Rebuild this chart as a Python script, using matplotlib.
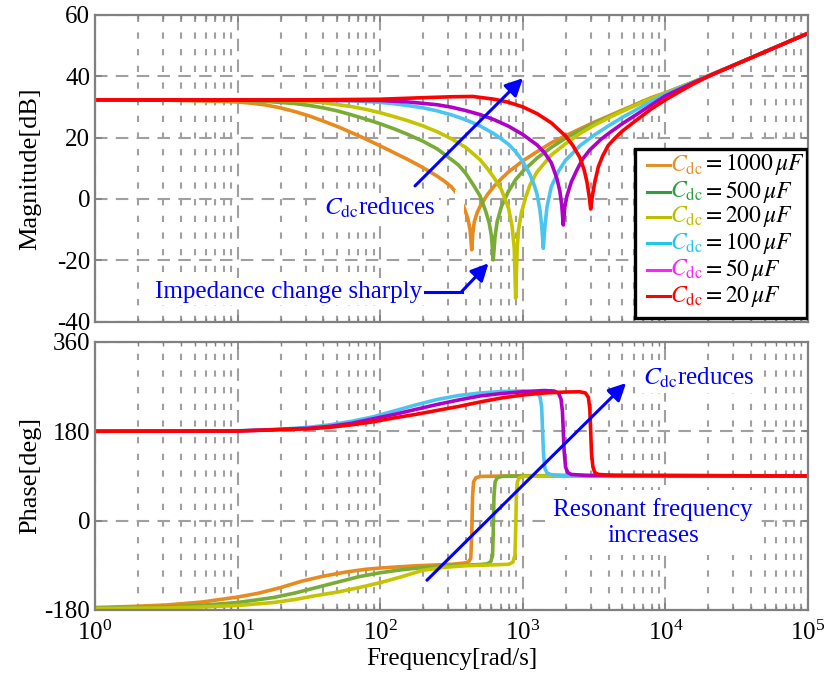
import numpy as np
import matplotlib.pyplot as plt
from matplotlib.patches import Rectangle
from matplotlib.ticker import LogLocator, NullFormatter

plt.rcParams['font.family'] = 'Liberation Serif'
plt.rcParams['mathtext.fontset'] = 'stix'
plt.rcParams['axes.unicode_minus'] = False

# ---- data; frequencies given as log10(w), w in rad/s ----
cap_labels = ['1000', '500', '200', '100', '50', '20']
line_colors = ['#E88A1E', '#78AC34', '#C4C400', '#4CC4F0', '#B000C8', '#FF0000']
legend_colors = ['#E0922E', '#2E9E40', '#BDBD00', '#20C8E8', '#FF20FF', '#FF0000']

# magnitude [dB]
lw_mag_1000 = [0, 0.5, 0.8, 1.0, 1.1, 1.2, 1.3, 1.4, 1.5, 1.6, 1.7, 1.8, 1.9, 2.0, 2.1, 2.2,
               2.3, 2.4, 2.45, 2.5, 2.55, 2.59, 2.615, 2.63, 2.642, 2.65, 2.66, 2.68, 2.7,
               2.75, 2.8, 2.85, 2.9, 3.0, 3.1, 3.2, 3.3, 3.4, 3.5, 3.6, 3.7, 3.8, 3.9, 4.0,
               4.2, 4.5, 5.0]
mag_1000 = [32.3, 32.2, 31.9, 31.6, 31.2, 30.6, 29.7, 28.5, 27.1, 25.4, 23.6, 21.6, 19.5,
            17.3, 15.0, 12.7, 10.2, 7.4, 5.8, 3.9, 1.0, -3.0, -6.5, -10.0, -16.6, -11.0,
            -7.5, -4.5, -2.5, 1.3, 4.2, 6.6, 8.8, 12.4, 15.4, 18.3, 20.6, 22.8, 25.0, 27.0,
            29.0, 31.0, 33.0, 34.6, 38.2, 44.0, 54.0]

lw_mag_500 = [0, 1.0, 1.2, 1.4, 1.5, 1.6, 1.7, 1.8, 1.9, 2.0, 2.1, 2.2, 2.3, 2.4, 2.5, 2.55,
              2.6, 2.65, 2.7, 2.74, 2.765, 2.78, 2.793, 2.805, 2.82, 2.85, 2.9, 2.95, 3.0,
              3.1, 3.2, 3.3, 3.4, 3.5, 3.6, 3.7, 3.8, 3.9, 4.0, 4.2, 4.5, 5.0]
mag_500 = [32.3, 32.1, 31.8, 31.1, 30.5, 29.7, 28.7, 27.4, 26.0, 24.5, 22.8, 20.9, 18.8,
           16.3, 12.8, 11.0, 8.3, 4.8, 1.0, -4.0, -8.0, -12.0, -19.9, -12.5, -7.5, -2.5,
           2.5, 6.3, 9.0, 13.3, 16.8, 19.8, 22.3, 24.6, 26.7, 28.8, 30.8, 32.8, 34.5, 38.2,
           44.0, 54.0]

lw_mag_200 = [0, 1.0, 1.4, 1.6, 1.8, 1.9, 2.0, 2.1, 2.2, 2.3, 2.4, 2.5, 2.6, 2.7, 2.75, 2.8,
              2.85, 2.9, 2.925, 2.94, 2.95, 2.96, 2.97, 2.99, 3.02, 3.05, 3.1, 3.2, 3.3,
              3.4, 3.5, 3.6, 3.7, 3.8, 3.9, 4.0, 4.2, 4.5, 5.0]
mag_200 = [32.3, 32.3, 32.0, 31.4, 30.1, 29.2, 28.1, 26.8, 25.4, 23.8, 21.9, 19.6, 16.8,
           12.8, 10.0, 6.8, 3.0, -3.0, -9.0, -16.0, -32.4, -17.0, -10.0, -4.5, 0.5, 4.5,
           8.8, 14.3, 18.0, 21.3, 24.0, 26.4, 28.6, 30.7, 32.7, 34.5, 38.2, 44.0, 54.0]

lw_mag_100 = [0, 1.5, 1.8, 2.0, 2.1, 2.2, 2.3, 2.4, 2.5, 2.6, 2.7, 2.8, 2.9, 2.95, 3.0, 3.05,
              3.08, 3.1, 3.12, 3.133, 3.144, 3.155, 3.17, 3.2, 3.25, 3.3, 3.4, 3.5, 3.6,
              3.7, 3.8, 3.9, 4.0, 4.2, 4.5, 5.0]
mag_100 = [32.3, 32.3, 32.0, 31.5, 31.0, 30.4, 29.7, 28.7, 27.4, 25.8, 23.8, 21.2, 17.8,
           15.4, 12.2, 8.0, 4.5, 1.5, -3.5, -9.0, -16.1, -9.0, -2.5, 4.0, 9.0, 12.6, 17.3,
           20.8, 23.8, 26.6, 29.2, 31.8, 34.2, 38.1, 44.0, 54.0]

lw_mag_50 = [0, 2.0, 2.2, 2.4, 2.5, 2.6, 2.7, 2.8, 2.9, 3.0, 3.1, 3.15, 3.2, 3.24, 3.26,
             3.273, 3.284, 3.295, 3.31, 3.34, 3.38, 3.42, 3.47, 3.55, 3.6, 3.7, 3.8, 3.9,
             4.0, 4.2, 4.5, 5.0]
mag_50 = [32.3, 32.1, 31.6, 30.7, 29.9, 28.8, 27.5, 25.8, 23.7, 21.0, 17.6, 15.2, 11.8,
          6.5, 2.5, -2.0, -8.5, -2.5, 1.0, 5.5, 9.5, 13.0, 16.0, 19.5, 21.3, 24.6, 27.6,
          30.6, 33.6, 38.0, 44.0, 54.0]

lw_mag_20 = [0, 1.5, 2.0, 2.3, 2.5, 2.65, 2.8, 2.9, 3.0, 3.1, 3.2, 3.3, 3.35, 3.4, 3.43,
             3.45, 3.465, 3.476, 3.488, 3.505, 3.53, 3.56, 3.6, 3.65, 3.7, 3.8, 3.9, 4.0,
             4.1, 4.2, 4.3, 4.5, 5.0]
mag_20 = [32.3, 32.3, 32.5, 33.0, 33.3, 33.4, 32.5, 31.5, 30.0, 27.8, 24.8, 20.5, 17.5,
          13.5, 9.5, 5.5, 1.0, -3.3, 1.0, 5.5, 10.5, 14.0, 17.5, 20.0, 22.2, 25.8, 29.3,
          32.3, 35.0, 37.6, 39.9, 44.0, 54.0]

# phase [deg]
lw_ph_1000 = [0, 0.25, 0.5, 0.75, 1.0, 1.15, 1.3, 1.45, 1.6, 1.75, 1.9, 2.0, 2.25, 2.5,
              2.59, 2.62, 2.635, 2.642, 2.648, 2.655, 2.67, 2.7, 3.0, 5.0]
ph_1000 = [-175, -173, -170, -164, -154, -146, -135, -122, -112, -104, -98, -95.5, -91,
           -88, -85.5, -83, -76, -30, 50, 78, 86, 89, 90.5, 90]

lw_ph_500 = [0, 0.5, 0.75, 1.0, 1.25, 1.4, 1.55, 1.7, 1.85, 2.0, 2.15, 2.3, 2.5, 2.7, 2.75,
             2.775, 2.788, 2.793, 2.798, 2.806, 2.82, 2.85, 3.0, 5.0]
ph_500 = [-176, -174, -170.5, -165, -155, -146, -135, -124, -113, -105, -99, -94.5, -91,
          -88.5, -87, -83, -70, -20, 50, 78, 86, 89, 90, 90]

lw_ph_200 = [0, 0.5, 0.75, 1.0, 1.25, 1.4, 1.55, 1.7, 1.85, 2.0, 2.15, 2.3, 2.45, 2.6, 2.8,
             2.9, 2.93, 2.945, 2.95, 2.955, 2.962, 2.975, 3.0, 3.2, 5.0]
ph_200 = [-177, -176, -174, -171, -165, -159, -151, -144, -135, -125, -113, -100, -94,
          -91, -89, -88, -84, -70, -20, 50, 78, 86, 89, 90, 90]

lw_ph_100 = [0, 1.0, 1.25, 1.5, 1.65, 1.8, 1.95, 2.1, 2.25, 2.4, 2.55, 2.7, 2.85, 3.0, 3.07,
             3.1, 3.12, 3.132, 3.139, 3.146, 3.155, 3.17, 3.2, 3.3, 5.0]
ph_100 = [180, 181, 183, 188, 193, 200, 209, 221, 233, 244, 252, 257, 260, 261, 260, 257,
          250, 230, 180, 130, 105, 96, 92.5, 91, 90]

lw_ph_50 = [0, 1.0, 1.5, 1.65, 1.8, 1.95, 2.1, 2.25, 2.4, 2.55, 2.7, 2.85, 3.0, 3.15, 3.22,
            3.25, 3.268, 3.278, 3.284, 3.29, 3.3, 3.315, 3.34, 3.45, 5.0]
ph_50 = [180, 180.5, 186, 190, 196, 205, 214, 224, 234, 243, 251, 256, 259.5, 262, 261,
         257, 245, 220, 180, 140, 108, 97, 93, 91, 90]

lw_ph_20 = [0, 1.0, 1.5, 1.65, 1.8, 1.95, 2.1, 2.25, 2.4, 2.55, 2.7, 2.85, 3.0, 3.15, 3.3,
            3.4, 3.44, 3.46, 3.47, 3.476, 3.482, 3.492, 3.505, 3.53, 3.65, 5.0]
ph_20 = [180, 180.5, 185, 188, 193, 199, 207, 214, 222, 230, 239, 247, 253, 257, 259,
         259.5, 257, 248, 225, 180, 135, 108, 97, 93, 91, 90]

mag_lw = [lw_mag_1000, lw_mag_500, lw_mag_200, lw_mag_100, lw_mag_50, lw_mag_20]
mag_db = [mag_1000, mag_500, mag_200, mag_100, mag_50, mag_20]
ph_lw = [lw_ph_1000, lw_ph_500, lw_ph_200, lw_ph_100, lw_ph_50, lw_ph_20]
ph_deg = [ph_1000, ph_500, ph_200, ph_100, ph_50, ph_20]

fig = plt.figure(figsize=(8.33, 6.77), dpi=100)
ax1 = fig.add_axes([0.114, 0.525, 0.856, 0.453])
ax2 = fig.add_axes([0.114, 0.099, 0.856, 0.396])

grid_c = '#a0a0a0'
spine_c = '#808080'
blue = '#0000FF'


def style_axes(ax):
    ax.set_xscale('log')
    ax.set_xlim(1, 1e5)
    ax.xaxis.set_major_locator(LogLocator(base=10, numticks=10))
    ax.xaxis.set_minor_locator(LogLocator(base=10, subs=np.arange(2, 10), numticks=20))
    ax.xaxis.set_minor_formatter(NullFormatter())
    ax.grid(which='major', color=grid_c, lw=1.5, ls=(0, (6, 4)))
    ax.grid(which='minor', axis='x', color=grid_c, lw=1.5, ls=(0, (3, 5)))
    for s in ax.spines.values():
        s.set_color(spine_c)
        s.set_linewidth(1.6)
    ax.tick_params(which='both', direction='in', top=True, right=True, color=spine_c,
                   labelsize=18)
    ax.tick_params(which='major', length=5, width=1.2)
    ax.tick_params(which='minor', length=3, width=1.0)


for lw_, m, c in zip(mag_lw, mag_db, line_colors):
    ax1.plot(10 ** np.array(lw_), m, color=c, lw=2.6, solid_joinstyle='round')
for lw_, p, c in zip(ph_lw, ph_deg, line_colors):
    ax2.plot(10 ** np.array(lw_), p, color=c, lw=2.6, solid_joinstyle='round')

style_axes(ax1)
ax1.set_ylim(-40, 60)
ax1.set_yticks([-40, -20, 0, 20, 40, 60])
ax1.tick_params(axis='x', labelbottom=False)
ax1.set_ylabel('Magnitude[dB]', fontsize=19)
ax1.yaxis.set_label_coords(-0.075, 0.5)

style_axes(ax2)
ax2.set_ylim(-180, 360)
ax2.set_yticks([-180, 0, 180, 360])
ax2.set_ylabel('Phase[deg]', fontsize=19)
ax2.yaxis.set_label_coords(-0.075, 0.5)
ax2.set_xlabel('Frequency[rad/s]', fontsize=18)
ax2.xaxis.set_label_coords(0.5, -0.14)
ax2.tick_params(axis='x', pad=8)

# ---- annotations, top ----
box = dict(facecolor='white', edgecolor='none', pad=2)
ax1.text(100, -3, r'$C_{\rm dc}$reduces', color=blue, fontsize=18, ha='center',
         va='center', bbox=box, zorder=5)
ax1.add_patch(Rectangle((0.505, 0.325), 0.012, 0.104, transform=ax1.transAxes,
                        facecolor='white', edgecolor='none', zorder=4))
ax1.annotate('', xy=(1035, 40), xytext=(170, 3.6),
             arrowprops=dict(arrowstyle='-|>', color=blue, lw=2.2, mutation_scale=26),
             zorder=6)
ax1.text(196, -30.2, 'Impedance change sharply', color=blue, fontsize=18, ha='right',
         va='center', bbox=box, zorder=5)
ax1.plot([206, 373], [-30.2, -30.2], color=blue, lw=2.2, zorder=6)
ax1.annotate('', xy=(575, -21), xytext=(373, -30.2),
             arrowprops=dict(arrowstyle='-|>', color=blue, lw=2.2, mutation_scale=26,
                             shrinkA=0, shrinkB=0), zorder=6)

# ---- legend box ----
ax1.add_patch(Rectangle((0.757, 0.012), 0.241, 0.551, transform=ax1.transAxes,
                        facecolor='white', edgecolor='black', lw=2.4, zorder=7))
rows_y = [0.511, 0.424, 0.342, 0.256, 0.169, 0.082]
for lab, c, yy in zip(cap_labels, legend_colors, rows_y):
    ax1.plot([0.774, 0.806], [yy, yy], transform=ax1.transAxes, color=c, lw=2.2,
             zorder=8)
    ax1.text(0.807, yy, r'$C_{\rm dc}$', color=c, fontsize=17, va='center',
             transform=ax1.transAxes, zorder=8)
    ax1.text(0.852, yy, r'$=' + lab + r'\,\mu F$', color='black', fontsize=17,
             va='center', transform=ax1.transAxes, zorder=8)

# ---- annotations, bottom ----
ax2.annotate('', xy=(5470, 281), xytext=(206, -124),
             arrowprops=dict(arrowstyle='-|>', color=blue, lw=2.2, mutation_scale=26),
             zorder=6)
ax2.text(7000, 288, r'$C_{\rm dc}$reduces', color=blue, fontsize=18, ha='left',
         va='center', bbox=box, zorder=5)
ax2.text(8200, -4, 'Resonant frequency\nincreases', color=blue, fontsize=18,
         ha='center', va='center', linespacing=1.25,
         bbox=dict(facecolor='white', edgecolor='none', pad=6), zorder=5)

fig.savefig('out.png', dpi=100)
